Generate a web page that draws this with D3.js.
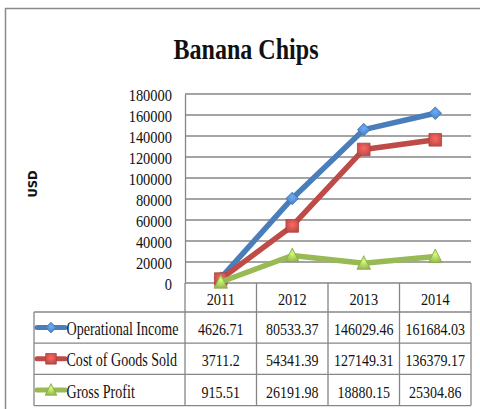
<!DOCTYPE html>
<html>
<head>
<meta charset="utf-8">
<script src="https://cdn.jsdelivr.net/npm/d3@7"></script>
<style>
  html, body { margin: 0; padding: 0; background: #fff; }
  svg { display: block; }
</style>
</head>
<body>
<svg id="chart" width="480" height="409"></svg>
<script>
// Chart data
const years = ["2011", "2012", "2013", "2014"];
const seriesNames = ["Operational Income", "Cost of Goods Sold", "Gross Profit"];
const operationalIncome = [4626.71, 80533.37, 146029.46, 161684.03];
const costOfGoodsSold = [3711.2, 54341.39, 127149.31, 136379.17];
const grossProfit = [915.51, 26191.98, 18880.15, 25304.86];
const valueLabels = [
  ["4626.71", "80533.37", "146029.46", "161684.03"],
  ["3711.2", "54341.39", "127149.31", "136379.17"],
  ["915.51", "26191.98", "18880.15", "25304.86"]
];
const yTicks = [0, 20000, 40000, 60000, 80000, 100000, 120000, 140000, 160000, 180000];
const seriesColors = ["#4a7ebb", "#be4b48", "#98b954"];
const markerShapes = ["diamond", "square", "triangle"];

const seriesValues = [operationalIncome, costOfGoodsSold, grossProfit];

const svg = d3.select("#chart");
const serif = "'Liberation Serif', 'Times New Roman', serif";
const gridColor = "#868686";

// Plot geometry
const plotLeft = 185, plotRight = 471, plotTop = 94, plotBottom = 283;
const rowH = 31.2, headerBottom = 312, tableLeft = 34;

const x = d3.scalePoint().domain(years).range([plotLeft, plotRight]).padding(0.5);
const colW = (plotRight - plotLeft) / years.length;
const y = d3.scaleLinear().domain([0, 180000]).range([plotBottom, plotTop]);

// text helper with horizontal condensing
function label(g, str, px, py, opts) {
  const o = Object.assign({size: 15, sx: 1, anchor: "middle", weight: "normal", family: serif, base: "central"}, opts || {});
  return g.append("text")
    .attr("transform", `translate(${px},${py}) scale(${o.sx},1)`)
    .attr("text-anchor", o.anchor)
    .attr("dominant-baseline", o.base)
    .attr("font-family", o.family)
    .attr("font-size", o.size)
    .attr("font-weight", o.weight)
    .attr("fill", "#111")
    .text(str);
}

// Outer chart frame
svg.append("path")
  .attr("d", "M5.5,409 L5.5,8.5 L480,8.5")
  .attr("fill", "none")
  .attr("stroke", "#8a8a8a")
  .attr("stroke-width", 1.5);

// Title
label(svg, "Banana Chips", 246, 59, {size: 29, sx: 0.83, weight: "bold", base: "alphabetic"});

// Axis title
svg.append("text")
  .attr("transform", "translate(37,184) rotate(-90)")
  .attr("text-anchor", "middle")
  .attr("font-family", "'DejaVu Sans', sans-serif")
  .attr("font-weight", "bold")
  .attr("font-size", 11.5)
  .attr("fill", "#111")
  .text("USD");

// Gridlines
const grid = svg.append("g");
grid.selectAll("line")
  .data(yTicks)
  .join("line")
  .attr("x1", plotLeft).attr("x2", plotRight)
  .attr("y1", d => y(d)).attr("y2", d => y(d))
  .attr("stroke", gridColor)
  .attr("stroke-width", 1.3);

// Y axis with tick labels (condensed serif)
const yAxis = svg.append("g")
  .attr("transform", `translate(${plotLeft},0)`)
  .call(d3.axisLeft(y).tickValues(yTicks).tickSize(0).tickPadding(13).tickFormat(d3.format("d")));
yAxis.select(".domain").attr("stroke", gridColor).attr("stroke-width", 1.3);
yAxis.selectAll(".tick text")
  .attr("x", null)
  .attr("dy", null)
  .attr("dominant-baseline", "central")
  .attr("transform", "translate(-13,1) scale(0.85,1)")
  .attr("font-family", serif)
  .attr("font-size", 17)
  .attr("fill", "#111");

// Data table grid
const table = svg.append("g").attr("stroke", gridColor).attr("stroke-width", 1.3).attr("fill", "none");
const tableBottom = headerBottom + rowH * seriesNames.length;
// column separators (category columns)
d3.range(years.length + 1).forEach(i => {
  const cx = plotLeft + i * colW;
  table.append("line").attr("x1", cx).attr("x2", cx).attr("y1", plotBottom).attr("y2", tableBottom);
});
// left edge of legend column
table.append("line").attr("x1", tableLeft).attr("x2", tableLeft).attr("y1", headerBottom).attr("y2", tableBottom);
// row separators
d3.range(seriesNames.length + 1).forEach(i => {
  const ry = headerBottom + i * rowH;
  table.append("line").attr("x1", tableLeft).attr("x2", plotRight).attr("y1", ry).attr("y2", ry);
});

// Category header
years.forEach(yr => label(svg, yr, x(yr), (plotBottom + headerBottom) / 2 + 1.5, {size: 17.5, sx: 0.82}));

// Marker shapes
function markerPath(shape, s) {
  if (shape === "diamond") return `M0,${-s} L${s},0 L0,${s} L${-s},0 Z`;
  if (shape === "square") return `M${-s},${-s} H${s} V${s} H${-s} Z`;
  return `M0,${-s * 1.1} L${s},${s * 0.9} L${-s},${s * 0.9} Z`;
}
const markerSize = [6.3, 6.3, 6.8];
const defs = svg.append("defs");
seriesColors.forEach((c, i) => {
  const grad = defs.append("radialGradient").attr("id", "mk" + i).attr("cx", "50%").attr("cy", "40%").attr("r", "60%");
  grad.append("stop").attr("offset", "0%").attr("stop-color", d3.color(c).brighter(0.9));
  grad.append("stop").attr("offset", "100%").attr("stop-color", c);
});

// Series lines and markers
const line = d3.line().x((d, i) => x(years[i])).y(d => y(d));
seriesValues.forEach((vals, si) => {
  const g = svg.append("g");
  g.append("path")
    .datum(vals)
    .attr("d", line)
    .attr("fill", "none")
    .attr("stroke", seriesColors[si])
    .attr("stroke-width", 5.5)
    .attr("stroke-linejoin", "round")
    .attr("stroke-linecap", "round");
  g.selectAll("path.mk")
    .data(vals)
    .join("path")
    .attr("class", "mk")
    .attr("transform", (d, i) => `translate(${x(years[i])},${y(d)})`)
    .attr("d", markerPath(markerShapes[si], markerSize[si]))
    .attr("fill", `url(#mk${si})`)
    .attr("stroke", d3.color(seriesColors[si]).darker(0.3))
    .attr("stroke-width", 0.8);
});

// Table rows: legend keys, names, values
seriesNames.forEach((name, si) => {
  const cy = headerBottom + rowH * si + rowH / 2;
  const g = svg.append("g");
  g.append("line")
    .attr("x1", 37).attr("x2", 65).attr("y1", cy).attr("y2", cy)
    .attr("stroke", seriesColors[si]).attr("stroke-width", 5).attr("stroke-linecap", "round");
  g.append("path")
    .attr("transform", `translate(51,${cy})`)
    .attr("d", markerPath(markerShapes[si], markerSize[si] - 1))
    .attr("fill", `url(#mk${si})`)
    .attr("stroke", d3.color(seriesColors[si]).darker(0.3))
    .attr("stroke-width", 0.8);
  label(svg, name, 66.5, cy + 1.5, {size: 18.5, sx: 0.76, anchor: "start"});
  valueLabels[si].forEach((v, ci) => label(svg, v, x(years[ci]), cy + 1.5, {size: 17.5, sx: 0.8}));
});
</script>
</body>
</html>
